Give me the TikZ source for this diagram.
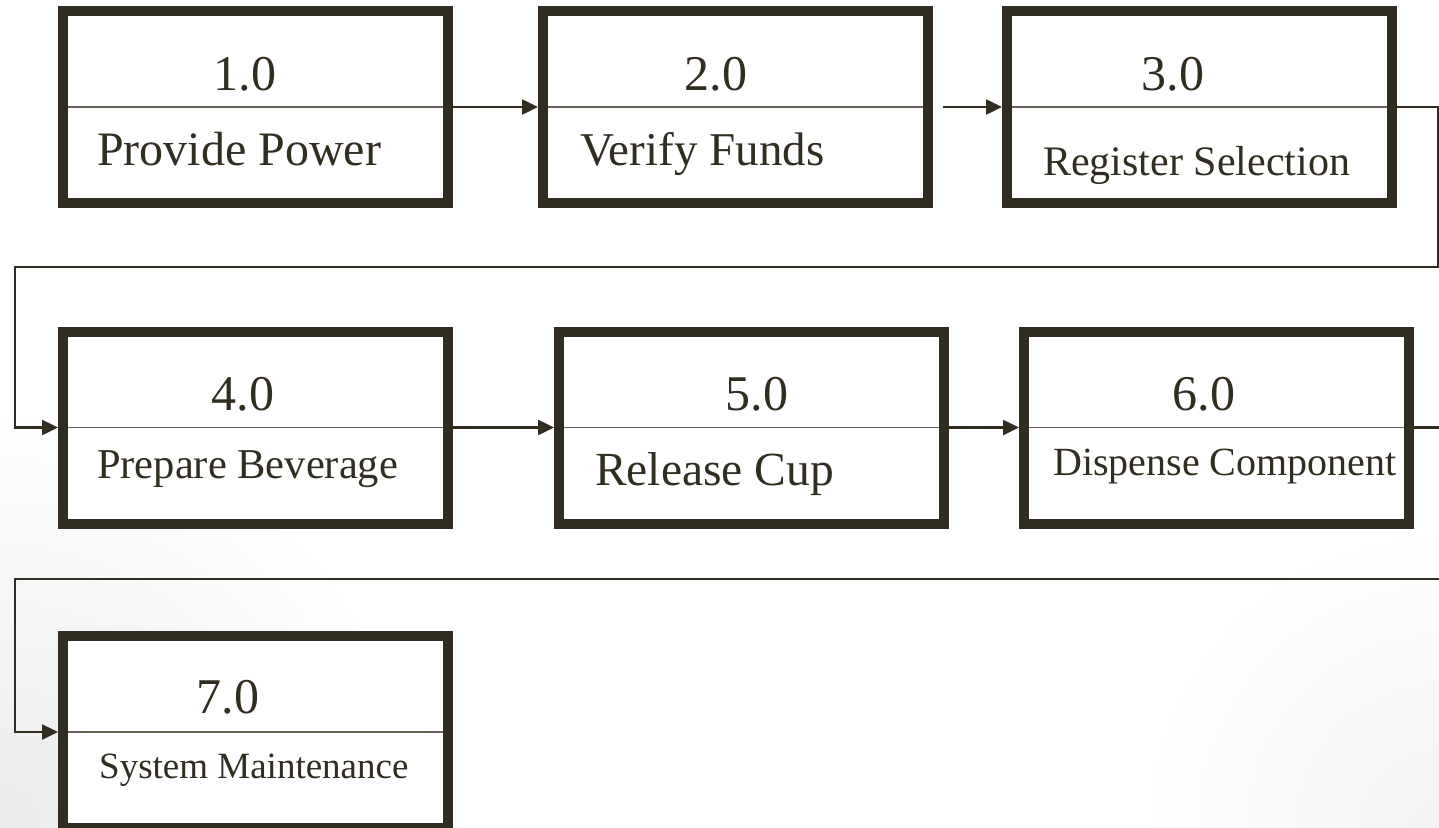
\documentclass[tikz,border=0pt]{standalone}
\usepackage{fontspec}
\setmainfont{Liberation Serif}
\usetikzlibrary{arrows.meta}
\definecolor{ink}{RGB}{50,45,33}
\definecolor{divc}{RGB}{105,100,90}
\begin{document}
\begin{tikzpicture}[x=1pt,y=-1pt,
  proc/.style={draw=ink, line width=10pt, fill=white, minimum width=385pt, minimum height=192pt, inner sep=0pt},
  conn/.style={draw=ink, line width=2.5pt, -{Triangle[length=16pt,width=15pt]}},
  divider/.style={draw=divc, line width=1.8pt},
  num/.style={text=ink, anchor=base, inner sep=0pt, font=\fontsize{50}{60}\selectfont},
  lbl/.style={text=ink, anchor=base west, inner sep=0pt},
]
\useasboundingbox (0,0) rectangle (1439,827);
\clip (0,0) rectangle (1439,827);
\fill[white] (0,0) rectangle (1439,827);
\shade[inner color=black!8, outer color=white] (0,827) circle[radius=420];
\shade[inner color=black!5, outer color=white] (1439,827) circle[radius=300];

% boxes
\node[proc] (B1) at (255.5,107) {};
\node[proc] (B2) at (735.5,107) {};
\node[proc] (B3) at (1199.5,107) {};
\node[proc] (B4) at (255.5,427.5) {};
\node[proc] (B5) at (751.5,427.5) {};
\node[proc] (B6) at (1216.5,427.5) {};
\node[proc] (B7) at (255.5,732) {};

% dividers
\foreach \b in {B1,B2,B3,B4,B5,B6,B7}{
  \draw[divider] ([xshift=10pt]\b.west) -- ([xshift=-10pt]\b.east);
}

% numbers
\node[num] (n1) at (245,90) {1.0};
\node[num] (n2) at (716,90) {2.0};
\node[num] (n3) at (1173,90) {3.0};
\node[num] (n4) at (243,410) {4.0};
\node[num] (n5) at (757,410) {5.0};
\node[num] (n6) at (1204,410) {6.0};
\node[num] (n7) at (228,713) {7.0};

% labels
\node[lbl, font=\fontsize{48}{58}\selectfont] (t1) at (97,165) {Provide Power};
\node[lbl, font=\fontsize{47}{57}\selectfont] (t2) at (580,165) {Verify Funds};
\node[lbl, font=\fontsize{42}{50}\selectfont] (t3) at (1043,175) {Register Selection};
\node[lbl, font=\fontsize{42.5}{50}\selectfont] (t4) at (97,478) {Prepare Beverage};
\node[lbl, font=\fontsize{47.5}{57}\selectfont] (t5) at (595,485) {Release Cup};
\node[lbl, font=\fontsize{40}{48}\selectfont] (t6) at (1053,475) {Dispense Component};
\node[lbl, font=\fontsize{37}{44}\selectfont] (t7) at (99,778) {System Maintenance};

% connectors
\coordinate (k1) at (15,267);
\coordinate (k2) at (15,579);
\draw[conn] (B1.east) -- (B2.west);
\draw[conn] ([xshift=10pt]B2.east) -- (B3.west);
\draw[conn] (B3.east) -- ++(41,0) |- (k1) |- (B4.west);
\draw[conn] (B4.east) -- (B5.west);
\draw[conn] (B5.east) -- (B6.west);
\draw[conn] (B6.east) -- ++(60,0) |- (k2) |- (B7.west);
\end{tikzpicture}
\end{document}
